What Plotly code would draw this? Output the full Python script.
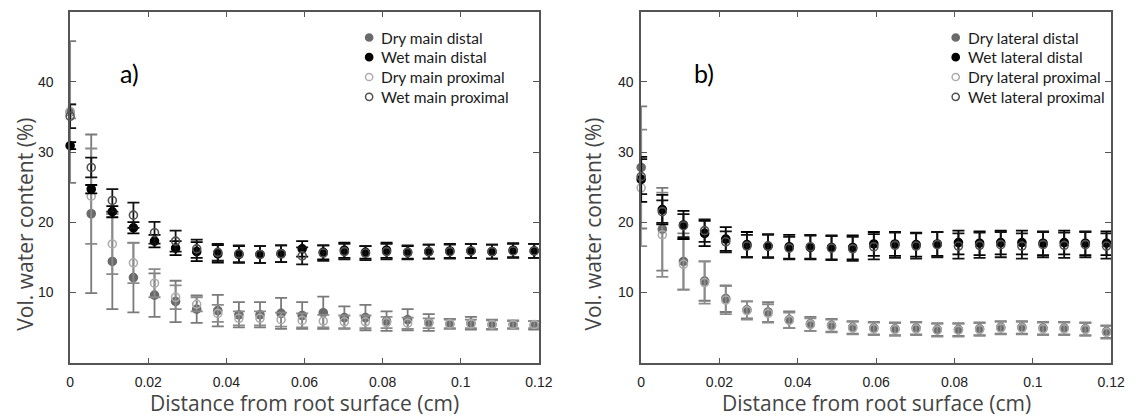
import plotly.graph_objects as go

# Distance from the root surface (cm), one value per measurement column
distance_cm = [0.0, 0.0054, 0.0108, 0.0162, 0.0216, 0.027, 0.0324, 0.0378, 0.0432,
               0.0486, 0.054, 0.0594, 0.0648, 0.0702, 0.0756, 0.081, 0.0864, 0.0918,
               0.0972, 0.1026, 0.108, 0.1134, 0.1188]

# a) main roots – volumetric water content (%) and error (+/-)
dry_main_distal = [35.7, 21.2, 14.4, 12.1, 9.6, 8.7, 7.6, 7.4, 6.8, 6.8, 7.0, 6.7, 7.1,
                   6.4, 6.4, 5.9, 6.1, 5.7, 5.5, 5.6, 5.4, 5.4, 5.3]
dry_main_distal_err = [10.1, 11.3, 6.8, 4.95, 3.1, 2.95, 1.95, 2.25, 1.8, 1.8, 2.2, 1.9, 2.3,
                       1.6, 1.8, 1.4, 1.5, 1.2, 0.7, 0.9, 0.7, 0.6, 0.6]
wet_main_distal = [30.9, 24.7, 21.5, 19.2, 17.3, 16.3, 15.8, 15.5, 15.4, 15.4, 15.5, 16.2, 15.7,
                   16.0, 15.7, 16.0, 15.7, 15.8, 15.9, 15.9, 15.8, 16.0, 15.9]
wet_main_distal_err = [0.5, 0.6, 0.8, 0.8, 0.9, 1.0, 1.35, 1.25, 1.2, 1.2, 1.2, 1.1, 1.0,
                       1.1, 0.9, 1.1, 0.9, 1.0, 1.0, 1.0, 1.0, 1.0, 1.0]
dry_main_proximal = [35.8, 23.7, 16.9, 14.2, 11.3, 9.3, 8.3, 7.0, 6.3, 6.3, 6.1, 6.0, 5.9,
                     5.8, 5.8, 5.7, 5.6, 5.6, 5.5, 5.5, 5.4, 5.4, 5.4]
dry_main_proximal_err = [1.0, 6.8, 4.3, 2.9, 2.0, 1.7, 1.0, 1.2, 1.0, 1.0, 1.0, 1.0, 0.9,
                         0.9, 0.9, 0.8, 0.8, 0.7, 0.6, 0.6, 0.6, 0.5, 0.5]
wet_main_proximal = [35.1, 27.8, 23.1, 21.0, 18.5, 17.3, 16.2, 15.7, 15.5, 15.4, 15.5, 15.2, 15.6,
                     15.8, 15.6, 15.8, 15.7, 15.8, 15.8, 15.9, 15.8, 15.9, 15.9]
wet_main_proximal_err = [1.7, 1.4, 1.6, 1.8, 1.55, 1.5, 1.3, 1.2, 1.2, 1.2, 1.2, 1.2, 1.1,
                         1.1, 1.0, 1.1, 1.0, 1.0, 1.0, 1.0, 1.0, 1.0, 1.0]

# b) lateral roots
dry_lateral_distal = [27.8, 19.0, 14.4, 11.6, 9.1, 7.5, 7.2, 6.1, 5.5, 5.3, 5.0, 4.9, 4.8,
                      4.9, 4.7, 4.7, 4.8, 5.0, 5.0, 4.9, 4.9, 4.8, 4.4]
dry_lateral_distal_err = [8.7, 5.9, 4.0, 2.8, 1.9, 1.2, 1.4, 1.2, 1.0, 0.9, 0.9, 0.9, 0.9,
                          0.9, 0.9, 0.9, 0.9, 0.9, 0.9, 0.9, 0.9, 0.9, 0.9]
wet_lateral_distal = [26.1, 21.8, 19.6, 18.4, 17.6, 16.8, 16.6, 16.5, 16.4, 16.4, 16.4, 16.9, 16.9,
                      16.8, 16.9, 17.1, 17.0, 17.1, 17.1, 17.0, 17.1, 17.0, 17.0]
wet_lateral_distal_err = [3.2, 2.1, 2.0, 1.8, 1.7, 1.8, 1.7, 1.7, 1.7, 1.7, 1.7, 1.7, 1.7,
                          1.7, 1.7, 1.7, 1.7, 1.7, 1.7, 1.7, 1.7, 1.7, 1.7]
dry_lateral_proximal = [24.9, 18.2, 14.0, 11.4, 8.9, 7.4, 7.0, 6.0, 5.4, 5.2, 4.9, 4.8, 4.7,
                        4.8, 4.6, 4.6, 4.7, 4.9, 4.9, 4.8, 4.8, 4.7, 4.3]
dry_lateral_proximal_err = [8.3, 6.0, 3.6, 3.0, 2.0, 1.3, 1.3, 1.1, 0.9, 0.9, 0.9, 0.9, 0.9,
                            0.9, 0.9, 0.9, 0.9, 0.9, 0.9, 0.9, 0.9, 0.9, 0.9]
wet_lateral_proximal = [26.5, 21.5, 19.5, 18.8, 17.2, 16.6, 16.6, 16.3, 16.5, 16.3, 16.2, 16.5, 16.7,
                        16.6, 16.8, 16.6, 16.7, 16.8, 16.6, 16.8, 16.7, 16.8, 16.6]
wet_lateral_proximal_err = [2.5, 1.6, 1.65, 1.6, 1.5, 1.6, 1.6, 1.6, 1.7, 1.7, 1.7, 1.8, 1.8,
                            1.8, 1.8, 1.8, 1.8, 1.8, 1.8, 1.8, 1.8, 1.8, 1.8]

x_tick_vals = [0, 0.02, 0.04, 0.06, 0.08, 0.1, 0.12]
x_tick_text = ["0", "0.02", "0.04", "0.06", "0.08", "0.1", "0.12"]
y_tick_vals = [10, 20, 30, 40]

W, H = 1138, 419

# series styles: (marker colour, symbol, error-bar colour)
STYLE = {
    "dry_distal": ("#6a6a6a", "circle", "#7a7a7a"),
    "wet_distal": ("#000000", "circle", "#000000"),
    "dry_proximal": ("#ababab", "circle-open", "#8a8a8a"),
    "wet_proximal": ("#505050", "circle-open", "#111111"),
}

fig = go.Figure()


def add_series(y, err, key, name, xa, ya):
    color, symbol, ecolor = STYLE[key]
    fig.add_trace(go.Scatter(
        x=distance_cm, y=y, mode="markers", name=name, showlegend=False,
        xaxis=xa, yaxis=ya, cliponaxis=False,
        marker=dict(color=color, symbol=symbol, size=8,
                    line=dict(color=color, width=1.6)),
        error_y=dict(type="data", array=err, visible=True, color=ecolor,
                     thickness=1.8, width=6),
    ))


# panel a) – main roots
add_series(dry_main_distal, dry_main_distal_err, "dry_distal", "Dry main distal", "x", "y")
add_series(dry_main_proximal, dry_main_proximal_err, "dry_proximal", "Dry main proximal", "x", "y")
add_series(wet_main_distal, wet_main_distal_err, "wet_distal", "Wet main distal", "x", "y")
add_series(wet_main_proximal, wet_main_proximal_err, "wet_proximal", "Wet main proximal", "x", "y")

# panel b) – lateral roots
add_series(dry_lateral_distal, dry_lateral_distal_err, "dry_distal", "Dry lateral distal", "x2", "y2")
add_series(dry_lateral_proximal, dry_lateral_proximal_err, "dry_proximal", "Dry lateral proximal", "x2", "y2")
add_series(wet_lateral_distal, wet_lateral_distal_err, "wet_distal", "Wet lateral distal", "x2", "y2")
add_series(wet_lateral_proximal, wet_lateral_proximal_err, "wet_proximal", "Wet lateral proximal", "x2", "y2")

TICK_FONT = dict(family="Liberation Sans, Arial, sans-serif", size=14, color="#222222")
FRAME = "#555555"

y_dom = [1 - 362.5 / H, 1 - 11.7 / H]
x_dom_a = [67.2 / W, 543.5 / W]
x_dom_b = [647.4 / W, 1125.0 / W]


def x_axis(domain, anchor):
    return dict(domain=domain, anchor=anchor, range=[0, 0.12],
                tickmode="array", tickvals=x_tick_vals, ticktext=x_tick_text,
                ticks="inside", ticklen=5, tickwidth=1.3, tickcolor=FRAME,
                showline=True, linecolor=FRAME, linewidth=1.6, mirror="ticks",
                showgrid=False, zeroline=False, tickfont=TICK_FONT,
                ticklabelstandoff=6)


def y_axis(domain, anchor, standoff):
    return dict(domain=domain, anchor=anchor, range=[0, 50],
                tickmode="array", tickvals=y_tick_vals,
                ticks="inside", ticklen=6, tickwidth=1.3, tickcolor=FRAME,
                showline=True, linecolor=FRAME, linewidth=1.6, mirror="ticks",
                showgrid=False, zeroline=False, tickfont=TICK_FONT,
                ticklabelstandoff=standoff)


TITLE_FONT = dict(family="Open Sans, sans-serif", size=21, color="#444444")
LEGEND_FONT = dict(family="Lato, sans-serif", size=15.5, color="#1a1a1a")
PANEL_FONT = dict(family="Lato, sans-serif", size=25, color="#000000")

annotations = []
shapes = []

# axis titles
for xc in [(67.2 + 543.5) / 2, (647.4 + 1125.0) / 2]:
    annotations.append(dict(text="Distance from root surface (cm)", xref="paper", yref="paper",
                            x=xc / W, y=1 - 403 / H, showarrow=False, font=TITLE_FONT,
                            xanchor="center", yanchor="middle"))
for xc in [21, 598]:
    annotations.append(dict(text="Vol. water content (%)", xref="paper", yref="paper",
                            x=xc / W, y=1 - 224 / H, showarrow=False, font=TITLE_FONT,
                            textangle=-90, xanchor="center", yanchor="middle"))

# panel labels
annotations.append(dict(text="a)", xref="paper", yref="paper", x=128 / W, y=1 - 73 / H,
                        showarrow=False, font=PANEL_FONT, xanchor="center", yanchor="middle"))
annotations.append(dict(text="b)", xref="paper", yref="paper", x=711 / W, y=1 - 73 / H,
                        showarrow=False, font=PANEL_FONT, xanchor="center", yanchor="middle"))

# legend boxes drawn as symbol + label rows
legend_rows = [
    ("dry_distal", "Dry main distal", "Dry lateral distal"),
    ("wet_distal", "Wet main distal", "Wet lateral distal"),
    ("dry_proximal", "Dry main proximal", "Dry lateral proximal"),
    ("wet_proximal", "Wet main proximal", "Wet lateral proximal"),
]
legend_y = [37.5, 57.2, 77.0, 96.8]
for (sym_x, txt_x, col) in [(371, 381, 1), (967, 977, 2)]:
    for (key, name_a, name_b), py in zip(legend_rows, legend_y):
        color, symbol, _ = STYLE[key]
        filled = symbol == "circle"
        shapes.append(dict(type="circle", xref="paper", yref="paper",
                           xsizemode="pixel", ysizemode="pixel",
                           xanchor=sym_x / W, yanchor=1 - py / H,
                           x0=-3.6, x1=3.6, y0=-3.6, y1=3.6,
                           fillcolor=color if filled else "rgba(0,0,0,0)",
                           line=dict(color=color, width=1.5)))
        annotations.append(dict(text=name_a if col == 1 else name_b, xref="paper", yref="paper",
                                x=txt_x / W, y=1 - py / H, showarrow=False, font=LEGEND_FONT,
                                xanchor="left", yanchor="middle"))

fig.update_layout(
    width=W, height=H, margin=dict(l=0, r=0, t=0, b=0),
    paper_bgcolor="white", plot_bgcolor="white", showlegend=False,
    xaxis=x_axis(x_dom_a, "y"), yaxis=y_axis(y_dom, "x", 12),
    xaxis2=x_axis(x_dom_b, "y2"), yaxis2=y_axis(y_dom, "x2", 3),
    annotations=annotations, shapes=shapes,
)

fig.write_html("out.html")
